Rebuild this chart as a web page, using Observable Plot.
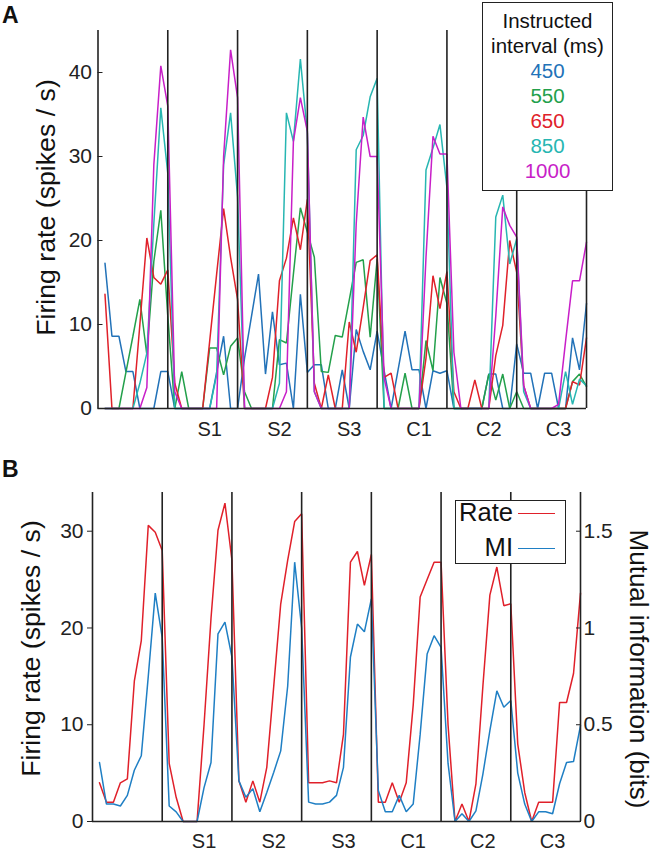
<!DOCTYPE html>
<html>
<head>
<meta charset="utf-8">
<script src="https://cdn.jsdelivr.net/npm/d3@7"></script>
<script src="https://cdn.jsdelivr.net/npm/@observablehq/plot@0.6"></script>
<style>
  body { margin: 0; background: #fff; font-family: "Liberation Sans", Arial, sans-serif; }
  #wrap { position: relative; width: 656px; height: 852px; overflow: hidden; background: #fff; }
  #wrap svg { position: absolute; left: 0; }
  .leg { position: absolute; background: #fff; border: 1.5px solid #222; box-sizing: border-box; color: #111; }
</style>
</head>
<body>
<div id="wrap"></div>
<script>
// ---------- Panel A data: firing rate per instructed interval (70 bins) ----------
const intervals = ["450", "550", "650", "850", "1000"];
const intervalColors = ["#2272b8", "#23a04b", "#e0212a", "#27b6b2", "#c81fc8"];

const rate450 = [17.3, 8.6, 8.6, 4.4, 4.4, 0, 0, 0, 4.4, 4.4,
  0, 0, 0, 0, 0, 0, 4.3, 8.6, 0, 0,
  6, 11, 16, 4.1, 11.5, 5.2, 5.4, 0, 13.6, 4.3,
  5.2, 5.2, 0, 0, 4.6, 0, 9.4, 6.8, 4.6, 9.2,
  4.5, 0, 4.6, 9.2, 4.6, 4.6, 0, 4.5, 4.2, 4.5,
  0, 0, 0, 0, 0, 4.1, 4.1, 0, 0, 7.7,
  4.2, 4.2, 0, 4.2, 4.2, 0, 0, 8.4, 4.6, 12.5];
const rate550 = [0, 0, 0, 4.3, 8.6, 13, 6.4, 17.5, 23.6, 11,
  0, 4.4, 0, 0, 0, 7.2, 7.2, 4, 7.4, 8.4,
  2, 0, 0, 0, 0, 8.2, 7.8, 16, 23.9, 21,
  18, 4.4, 4.3, 8.7, 8.5, 12.9, 17.4, 17.7, 8.5, 17.8,
  0, 0, 0, 4.2, 0, 0, 8.1, 4.5, 15.6, 12.5,
  0, 0, 0, 0, 0, 4.1, 1, 4.1, 0, 2,
  0, 0, 0, 0, 0, 0, 0, 3.2, 4.1, 2.6];
const rate650 = [13.6, 0, 0, 0, 0, 10, 20.3, 15.6, 14.8, 16.5,
  3, 0, 0, 0, 0, 8, 16, 23.8, 18, 13,
  0, 0, 0, 0, 3.7, 15.2, 17.9, 22.7, 18.9, 24.9,
  3, 0, 4, 0, 0, 10.3, 6.7, 12, 17.6, 18.3,
  3.7, 4.2, 0, 0, 0, 0, 6, 15.8, 11.9, 16.3,
  2, 0, 0, 3.4, 0, 0, 6.3, 9.9, 20, 16.2,
  2.7, 0, 0, 0, 0, 0, 0, 3.2, 2.8, 8.4];
const rate850 = [0, 0, 0, 0, 0, 3, 6.6, 22, 35.8, 28,
  0, 0, 0, 0, 0, 0, 4, 29, 35.2, 25.2,
  0, 0, 0, 0, 0, 3, 35.2, 31.8, 41.6, 32.8,
  2, 0, 0, 0, 0, 0, 30.8, 32.5, 37.1, 39.3,
  0, 0, 0, 0, 0, 0, 28.4, 31, 33.8, 26.3,
  0, 0, 0, 0, 0, 0, 22.8, 25.4, 17.2, 20.2,
  2, 0, 0, 0, 0, 0, 4.4, 0.5, 3.5, 2.7];
const rate1000 = [0, 0, 0, 0, 0, 0, 2.5, 29, 40.8, 36,
  2, 0, 0, 0, 0, 0, 0, 30, 42.7, 37,
  0, 0, 0, 0, 0, 0, 2, 31.8, 37, 33,
  2, 0, 0, 0, 0, 0, 22, 34.7, 30, 30,
  3.6, 0, 0, 0, 0, 0, 18, 32.4, 30.3, 30.3,
  6.7, 0, 0, 0, 0, 0, 11, 24, 21.8, 20.4,
  2.7, 0, 0, 0, 0, 0.5, 8, 15.2, 15.2, 19.8];
const seriesA = [rate450, rate550, rate650, rate850, rate1000];

// ---------- Panel B data: mean rate and mutual information ----------
const rateB = [4, 2, 2, 4, 4.4, 14.5, 18.7, 30.6, 29.9, 28,
  6, 2.5, 0, 0, 0, 10, 21, 30.1, 32.9, 27,
  4.2, 2, 4.2, 2, 5.6, 14, 22.5, 27, 31, 31.8,
  4, 4, 4, 4.2, 4, 9, 26.8, 27.9, 24.4, 27.6,
  2, 2, 4, 2, 4, 12, 23.2, 25, 26.8, 26.8,
  10, 0, 1.8, 0, 3.9, 14, 23.4, 26.3, 22.3, 22.5,
  8, 3, 0, 2, 2, 2, 12.3, 12.3, 15.3, 23.6];
const miBits = [0.305, 0.09, 0.09, 0.08, 0.135, 0.265, 0.34, 0.75, 1.18, 0.95,
  0.08, 0.05, 0, 0, 0, 0.175, 0.305, 0.97, 1.03, 0.85,
  0.21, 0.125, 0.17, 0.05, 0.15, 0.255, 0.365, 0.7, 1.34, 1.0,
  0.1, 0.09, 0.09, 0.1, 0.135, 0.28, 0.85, 1.02, 0.98, 1.15,
  0.16, 0.05, 0.05, 0.135, 0.05, 0.09, 0.45, 0.865, 0.96, 0.9,
  0.3, 0, 0.04, 0, 0.055, 0.245, 0.47, 0.675, 0.59, 0.625,
  0.25, 0.09, 0, 0.05, 0.05, 0.04, 0.195, 0.305, 0.31, 0.495];

// ---------- Axes / labels ----------
const segLabels = ["S1", "S2", "S3", "C1", "C2", "C3"];
const segBounds = [0, 10, 20, 30, 40, 50, 60, 70];
const segLabelPos = [16, 26, 36, 46, 56, 66];
const yTicksA = [0, 10, 20, 30, 40];
const yTicksB = [0, 10, 20, 30];
const miTicks = [0, 0.5, 1, 1.5];
const bitsToRate = 20; // right-axis scale: 1.5 bits aligns with 30 spikes/s

const FONT = '"Liberation Sans", Arial, sans-serif';
const labelOf = new Map(segLabelPos.map((p, k) => [p, segLabels[k]]));

const rowsA = seriesA.flatMap((vals, s) => vals.map((v, j) => ({bin: j + 1, rate: v, interval: intervals[s]})));

const plotA = Plot.plot({
  width: 656, height: 440,
  marginLeft: 97.5, marginRight: 70, marginTop: 30, marginBottom: 32,
  x: {domain: [0, 70], axis: null},
  y: {domain: [0, 45], axis: null},
  color: {domain: intervals, range: intervalColors},
  style: {fontFamily: FONT, background: "transparent", color: "#222", overflow: "visible"},
  marks: [
    Plot.lineY(rowsA, {x: "bin", y: "rate", z: "interval", stroke: "interval", strokeWidth: 1.5, strokeLinejoin: "miter"}),
    Plot.ruleX(segBounds, {y1: 0, y2: 45, stroke: "#222", strokeWidth: 1.6}),
    Plot.ruleY([0], {stroke: "#222", strokeWidth: 1.6}),
    Plot.axisY(yTicksA, {tickSize: 0, tickPadding: 6, fontSize: 21, label: null}),
    Plot.axisY(yTicksA, {tickSize: 5, dx: 5, tickFormat: () => "", label: null}),
    Plot.axisX(segLabelPos, {tickSize: 0, tickPadding: 13, fontSize: 20, tickFormat: d => labelOf.get(d), label: null})
  ]
});

const rowsB = rateB.map((v, j) => ({bin: j + 1, val: v, kind: "Rate"}))
  .concat(miBits.map((v, j) => ({bin: j + 1, val: v * bitsToRate, kind: "MI"})));

const plotB = Plot.plot({
  width: 656, height: 412,
  marginLeft: 92, marginRight: 76, marginTop: 52, marginBottom: 31,
  x: {domain: [0, 70], axis: null},
  y: {domain: [0, 34], axis: null},
  color: {domain: ["Rate", "MI"], range: ["#e0202a", "#1f7fc4"]},
  style: {fontFamily: FONT, background: "transparent", color: "#222", overflow: "visible"},
  marks: [
    Plot.lineY(rowsB, {x: "bin", y: "val", z: "kind", stroke: "kind", strokeWidth: 1.5, strokeLinejoin: "miter"}),
    Plot.ruleX(segBounds, {y1: 0, y2: 34, stroke: "#222", strokeWidth: 1.6}),
    Plot.ruleY([0], {stroke: "#222", strokeWidth: 1.6}),
    Plot.axisY(yTicksB, {tickSize: 5, tickPadding: 4, fontSize: 21, label: null}),
    Plot.axisY(miTicks.map(t => t * bitsToRate), {anchor: "right", tickSize: 0, tickPadding: 3, fontSize: 21, tickFormat: d => String(d / bitsToRate), label: null}),
    Plot.axisY(miTicks.map(t => t * bitsToRate), {anchor: "right", tickSize: 5, dx: -5, tickFormat: () => "", label: null}),
    Plot.axisX(segLabelPos, {tickSize: 0, tickPadding: 12, fontSize: 20, tickFormat: d => labelOf.get(d), label: null})
  ]
});

const wrap = document.getElementById("wrap");
plotA.style.top = "0px";
plotB.style.top = "440px";
wrap.appendChild(plotA);
wrap.appendChild(plotB);

function addText(svg, txt, opts) {
  return d3.select(svg).append("text")
    .attr("transform", opts.transform)
    .attr("text-anchor", opts.anchor || "middle")
    .attr("font-family", FONT)
    .attr("font-size", opts.size)
    .attr("font-weight", opts.weight || "normal")
    .attr("fill", "#111")
    .text(txt);
}
addText(plotA, "Firing rate (spikes / s)", {transform: "translate(55,207.5) rotate(-90)", size: 26.7});
addText(plotA, "A", {transform: "translate(2,23)", size: 23, weight: "bold", anchor: "start"});
addText(plotB, "Firing rate (spikes / s)", {transform: "translate(40,208.5) rotate(-90)", size: 26.7});
addText(plotB, "Mutual information (bits)", {transform: "translate(630,229) rotate(90)", size: 26});
addText(plotB, "B", {transform: "translate(2,37)", size: 23, weight: "bold", anchor: "start"});

// ---------- Legend A ----------
const legA = document.createElement("div");
legA.className = "leg";
Object.assign(legA.style, {left: "482px", top: "2px", width: "131px", height: "189px", textAlign: "center",
  fontSize: "20.5px", lineHeight: "25px", paddingTop: "5px"});
["Instructed", "interval (ms)"].forEach(h => { const d = document.createElement("div"); d.textContent = h; legA.appendChild(d); });
intervals.forEach((iv, k) => {
  const d = document.createElement("div");
  d.textContent = iv;
  d.style.color = intervalColors[k];
  legA.appendChild(d);
});
wrap.appendChild(legA);

// ---------- Legend B ----------
const legB = document.createElement("div");
legB.className = "leg";
Object.assign(legB.style, {left: "455px", top: "500px", width: "111px", height: "64px"});
[["Rate", "#e0202a", 12], ["MI", "#1f7fc4", 47]].forEach(([name, col, cy]) => {
  const t = document.createElement("div");
  t.textContent = name;
  Object.assign(t.style, {position: "absolute", right: "52px", top: (cy - 16) + "px", fontSize: "25.6px", lineHeight: "30px"});
  legB.appendChild(t);
  const l = document.createElement("div");
  Object.assign(l.style, {position: "absolute", left: "62px", width: "37px", top: cy + "px", height: "0px", borderTop: "1.5px solid " + col});
  legB.appendChild(l);
});
wrap.appendChild(legB);
</script>
</body>
</html>
